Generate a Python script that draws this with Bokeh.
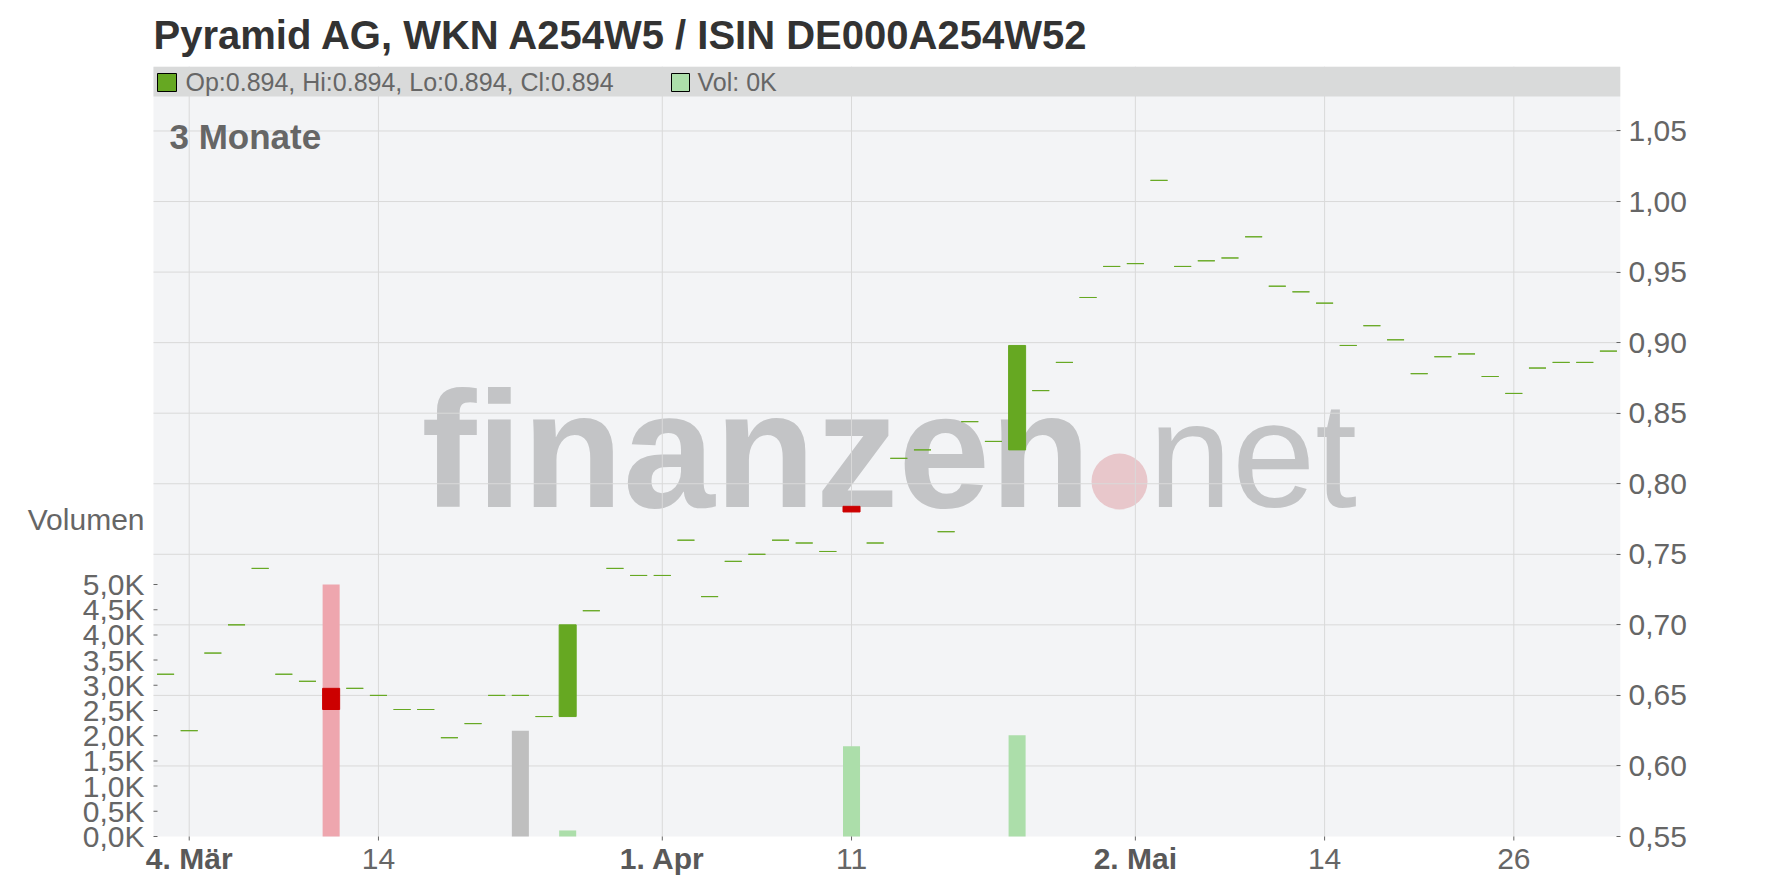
from bokeh.plotting import figure
from bokeh.models import (Range1d, LinearAxis, FixedTicker, Label,
                          BoxAnnotation, ColumnDataSource)
from bokeh.embed import file_html
from bokeh.resources import INLINE
from bokeh.core.properties import value

# ---------------- data ----------------
title_text = "Pyramid AG, WKN A254W5 / ISIN DE000A254W52"
legend_ohlc = "Op:0.894, Hi:0.894, Lo:0.894, Cl:0.894"
legend_vol = "Vol: 0K"
period_label = "3 Monate"
vol_title = "Volumen"

opens = [0.665, 0.625, 0.680, 0.700, 0.740, 0.665, 0.660, 0.655, 0.655, 0.650,
         0.640, 0.640, 0.620, 0.630, 0.650, 0.650, 0.635, 0.635, 0.710, 0.740,
         0.735, 0.735, 0.760, 0.720, 0.745, 0.750, 0.760, 0.758, 0.752, 0.784,
         0.758, 0.818, 0.824, 0.766, 0.844, 0.830, 0.824, 0.866, 0.886, 0.932,
         0.954, 0.956, 1.015, 0.954, 0.958, 0.960, 0.975, 0.940, 0.936, 0.928,
         0.898, 0.912, 0.902, 0.878, 0.890, 0.892, 0.876, 0.864, 0.882, 0.886,
         0.886, 0.894]
closes = [0.665, 0.625, 0.680, 0.700, 0.740, 0.665, 0.660, 0.640, 0.655, 0.650,
          0.640, 0.640, 0.620, 0.630, 0.650, 0.650, 0.635, 0.700, 0.710, 0.740,
          0.735, 0.735, 0.760, 0.720, 0.745, 0.750, 0.760, 0.758, 0.752, 0.780,
          0.758, 0.818, 0.824, 0.766, 0.844, 0.830, 0.898, 0.866, 0.886, 0.932,
          0.954, 0.956, 1.015, 0.954, 0.958, 0.960, 0.975, 0.940, 0.936, 0.928,
          0.898, 0.912, 0.902, 0.878, 0.890, 0.892, 0.876, 0.864, 0.882, 0.886,
          0.886, 0.894]
volumes = [0, 0, 0, 0, 0, 0, 0, 5000, 0, 0,
           0, 0, 0, 0, 0, 2100, 0, 120, 0, 0,
           0, 0, 0, 0, 0, 0, 0, 0, 0, 1790,
           0, 0, 0, 0, 0, 0, 2010, 0, 0, 0,
           0, 0, 0, 0, 0, 0, 0, 0, 0, 0,
           0, 0, 0, 0, 0, 0, 0, 0, 0, 0,
           0, 0]

x_tick_pos = [1, 9, 21, 29, 41, 49, 57]
x_tick_labels = ["4. Mär", "14", "1. Apr", "11", "2. Mai", "14", "26"]
x_tick_is_month = [True, False, True, False, True, False, False]

price_ticks = [0.55, 0.6, 0.65, 0.7, 0.75, 0.8, 0.85, 0.9, 0.95, 1.0, 1.05]
price_tick_labels = ["0,55", "0,60", "0,65", "0,70", "0,75", "0,80", "0,85",
                     "0,90", "0,95", "1,00", "1,05"]
vol_ticks = [0, 500, 1000, 1500, 2000, 2500, 3000, 3500, 4000, 4500, 5000]
vol_tick_labels = ["0,0K", "0,5K", "1,0K", "1,5K", "2,0K", "2,5K", "3,0K",
                   "3,5K", "4,0K", "4,5K", "5,0K"]

# ---------------- styling ----------------
GREEN = "#66a822"
RED = "#cc0000"
VOL_UP = "#acdeaa"
VOL_DOWN = "#eea6ae"
VOL_FLAT = "#bfbfbf"
GRID = "#d9d9d9"
PLOT_BG = "#f3f4f6"
TXT = "#666666"
TXT_BOLD = "#595959"
FONT = "Liberation Sans"
BASE_SHIFT = 0.35   # em offset of rendered alphabetic baseline

n = len(opens)
X_START, X_END = -0.51, n - 0.49      # x span of the shaded plot area
P_LOW, P_HIGH = 0.55, 1.0957          # price span of the shaded plot area
VOL_HIGH = 15278                       # volume at the top of the plot area

PL, PR, PB = 153, 1620, 836            # page px of plot-area left/right/bottom
PLOT_H = 770                           # height of the shaded plot area
FRAME_L = 144                          # frame starts a bit left of the plot area
LABEL_H = 52                           # strip under the plot area (x labels)
PXU = (PR - PL) / (X_END - X_START)
PPY = PLOT_H / (P_HIGH - P_LOW)
PPV = PLOT_H / VOL_HIGH


def dx(px):
    return X_START + (px - PL) / PXU


def dy(py):
    return P_LOW + (PB - py) / PPY


def dvol(py):
    return (PB - py) / PPV


def sx(px):
    return px - FRAME_L


def sy(py_baseline, size):
    return (PB - (py_baseline - BASE_SHIFT * size)) + LABEL_H


p = figure(frame_width=PR - FRAME_L, frame_height=PLOT_H + LABEL_H,
           x_range=Range1d(dx(FRAME_L), X_END),
           y_range=Range1d(dy(PB + LABEL_H), P_HIGH),
           x_axis_location=None, y_axis_location="right",
           output_backend="svg", toolbar_location=None,
           min_border_left=FRAME_L, min_border_right=156, min_border_top=66,
           min_border_bottom=0)
p.background_fill_color = "white"
p.border_fill_color = "white"
p.outline_line_color = None
p.xgrid.visible = False
p.ygrid.visible = False

p.title.text = title_text
p.title.align = "left"
p.title.offset = PL - FRAME_L
p.title.text_font = FONT
p.title.text_font_style = "bold"
p.title.text_font_size = "40px"
p.title.text_color = "#333333"
p.title.standoff = 19

p.extra_y_ranges = {"vol": Range1d(dvol(PB + LABEL_H), VOL_HIGH)}

# shaded plot area
p.add_layout(BoxAnnotation(left=X_START, bottom=P_LOW, fill_color=PLOT_BG,
                           fill_alpha=1, line_color=None, level="image"))

# watermark
p.text(x=[dx(421)], y=[dy(507 - BASE_SHIFT * 165)], text=["finanzen"],
       text_font=value(FONT), text_font_style="bold", text_font_size="165px",
       text_color="#c3c4c6", text_baseline="alphabetic", level="underlay")
p.scatter(x=[dx(1119)], y=[dy(481)], size=56, fill_color="#e8c7cb",
          line_color=None, level="underlay")
p.text(x=[dx(1148)], y=[dy(507 - BASE_SHIFT * 150)], text=["net"],
       text_font=value(FONT), text_font_size="150px", text_color="#c3c4c6",
       text_baseline="alphabetic", level="underlay")

# grid lines (inside the shaded area only)
p.segment(x0=x_tick_pos, y0=[P_LOW] * len(x_tick_pos), x1=x_tick_pos,
          y1=[P_HIGH] * len(x_tick_pos), line_color=GRID, line_width=1,
          level="underlay")
p.segment(x0=[X_START] * (len(price_ticks) - 1), y0=price_ticks[1:],
          x1=[X_END] * (len(price_ticks) - 1), y1=price_ticks[1:],
          line_color=GRID, line_width=1, level="underlay")

# volume
xs = list(range(n))
vol_colors = []
for i in range(n):
    prev = closes[i - 1] if i > 0 else closes[i]
    if closes[i] > prev:
        vol_colors.append(VOL_UP)
    elif closes[i] < prev:
        vol_colors.append(VOL_DOWN)
    else:
        vol_colors.append(VOL_FLAT)
vsrc = ColumnDataSource(dict(x=xs, top=volumes, color=vol_colors))
p.vbar(x="x", top="top", bottom=0, width=0.72, source=vsrc, fill_color="color",
       line_color=None, y_range_name="vol")

# candles
csrc = ColumnDataSource(dict(
    x=xs,
    top=[max(o, c) for o, c in zip(opens, closes)],
    bottom=[min(o, c) for o, c in zip(opens, closes)],
    color=[RED if c < o else GREEN for o, c in zip(opens, closes)],
))
p.vbar(x="x", top="top", bottom="bottom", width=0.72, source=csrc,
       fill_color="color", line_color="color", line_width=1)

# ---------------- x axis (ticks + labels under the shaded area) ----------------
p.rect(x=x_tick_pos, y=[dy(PB + 2)] * len(x_tick_pos), width=1, height=4,
       width_units="screen", height_units="screen", fill_color=TXT,
       line_color=None)
xlab = ColumnDataSource(dict(
    x=x_tick_pos,
    y=[dy(868.5 - BASE_SHIFT * 30)] * len(x_tick_pos),
    text=x_tick_labels,
    style=["bold" if m else "normal" for m in x_tick_is_month],
    color=[TXT_BOLD if m else TXT for m in x_tick_is_month],
))
p.text(x="x", y="y", text="text", source=xlab, text_font=value(FONT),
       text_font_style="style", text_color="color", text_font_size="30px",
       text_align="center", text_baseline="alphabetic")

# ---------------- y axes ----------------
ya = p.yaxis[0]
ya.ticker = FixedTicker(ticks=price_ticks)
ya.major_label_overrides = dict(zip(price_ticks, price_tick_labels))
ya.major_tick_line_color = TXT
ya.major_label_standoff = 8

# volume axis; its title "Volumen" sits in the label column above the ticks
vt_tick = round(dvol(519.5))
va = LinearAxis(y_range_name="vol",
                ticker=FixedTicker(ticks=vol_ticks + [vt_tick]),
                major_label_overrides=dict(zip(vol_ticks + [vt_tick],
                                               vol_tick_labels + [vol_title])))
p.add_layout(va, "left")
va.major_tick_line_color = None
va.major_label_standoff = 0
p.rect(x=[dx(PL + 2)] * len(vol_ticks), y=vol_ticks, width=4, height=1,
       width_units="screen", height_units="screen", fill_color=TXT,
       line_color=None, y_range_name="vol")

for ax in (ya, va):
    ax.axis_line_color = None
    ax.major_tick_in = 4
    ax.major_tick_out = 0
    ax.minor_tick_line_color = None
    ax.major_label_text_font = FONT
    ax.major_label_text_font_size = "30px"
    ax.major_label_text_color = TXT

# ---------------- legend band ----------------
p.add_layout(BoxAnnotation(left=X_START, bottom=dy(96), fill_color="#d9dada",
                           fill_alpha=1, line_color=None))
p.add_layout(BoxAnnotation(left=dx(157), right=dx(176), bottom=dy(91), top=dy(73),
                           fill_color=GREEN, fill_alpha=1, line_color="black",
                           line_width=1, line_alpha=1))
p.add_layout(BoxAnnotation(left=dx(671), right=dx(689), bottom=dy(91), top=dy(73),
                           fill_color=VOL_UP, fill_alpha=1, line_color="black",
                           line_width=1, line_alpha=1))
p.add_layout(Label(x=sx(185), y=sy(90, 25), x_units="screen", y_units="screen",
                   text=legend_ohlc, text_font=FONT, text_font_size="25px",
                   text_color=TXT, text_baseline="alphabetic"))
p.add_layout(Label(x=sx(697), y=sy(90, 25), x_units="screen", y_units="screen",
                   text=legend_vol, text_font=FONT, text_font_size="25px",
                   text_color=TXT, text_baseline="alphabetic"))

p.add_layout(Label(x=sx(169), y=sy(148, 35), x_units="screen", y_units="screen",
                   text=period_label, text_font=FONT, text_font_style="bold",
                   text_font_size="35px", text_color=TXT,
                   text_baseline="alphabetic"))

open("out.html", "w").write(file_html(p, INLINE))
